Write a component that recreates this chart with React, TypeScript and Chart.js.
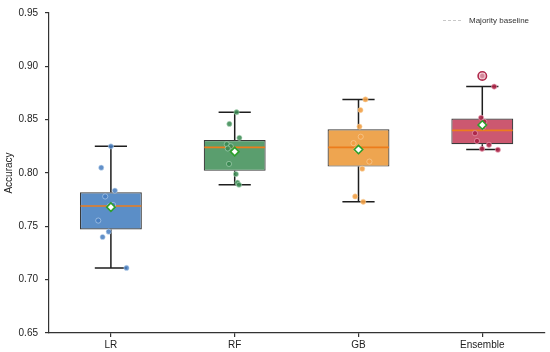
import React, { useEffect, useRef } from "react";
import { Chart, registerables } from "chart.js";

Chart.register(...registerables);

// ---- data ----
const categories = ["LR", "RF", "GB", "Ensemble"];
const q1 = [0.747, 0.802, 0.806, 0.827];
const q3 = [0.782, 0.831, 0.841, 0.851];
const medians = [0.769, 0.824, 0.824, 0.840];
const whiskerLow = [0.711, 0.789, 0.773, 0.822];
const whiskerHigh = [0.825, 0.857, 0.869, 0.881];
const means = [0.768, 0.820, 0.822, 0.845];
const outlierCats = [3];
const outlierValues = [0.891];

const lrScores = [0.825, 0.805, 0.7835, 0.778, 0.770, 0.769, 0.7554, 0.745, 0.740, 0.711];
const rfScores = [0.857, 0.846, 0.833, 0.827, 0.825, 0.823, 0.8085, 0.799, 0.791, 0.789];
const gbScores = [0.869, 0.859, 0.8435, 0.834, 0.828, 0.822, 0.8107, 0.804, 0.778, 0.773];
const ensScores = [0.891, 0.881, 0.8518, 0.848, 0.843, 0.8373, 0.830, 0.8264, 0.8227, 0.8218];
const scoreSets = [lrScores, rfScores, gbScores, ensScores];

// horizontal jitter (category units)
const lrJitter = [0, -0.078, 0.032, -0.046, 0.018, -0.01, -0.102, -0.018, -0.067, 0.126];
const rfJitter = [0.015, -0.043, 0.038, -0.064, -0.032, -0.056, -0.046, 0.01, 0.022, 0.035];
const gbJitter = [0.056, 0.016, 0.008, 0.018, -0.04, -0.016, 0.088, 0.03, -0.027, 0.038];
const ensJitter = [0, 0.096, -0.01, 0.016, 0.006, -0.059, -0.043, 0.054, -0.002, 0.126];
const jitterSets = [lrJitter, rfJitter, gbJitter, ensJitter];

const legendLabel = "Majority baseline";

// ---- styles ----
const boxFills = ["#5b8ec7", "#5a9e6e", "#eea550", "#cc5870"];
const pointFills = [
  "rgba(70,125,192,0.85)",
  "rgba(55,135,80,0.85)",
  "rgba(242,160,70,0.9)",
  "rgba(170,35,70,0.9)",
];
const pointEdges = [
  "rgba(200,220,240,0.8)",
  "rgba(190,225,200,0.8)",
  "rgba(250,215,170,0.8)",
  "rgba(240,170,190,0.9)",
];
const FONT = "'Liberation Sans', Arial, Helvetica, sans-serif";
const CAP_HALF = 0.13;

const boxExtras = {
  id: "boxExtras",
  beforeDatasetsDraw(chart: any) {
    const { ctx } = chart;
    const xs = chart.scales.x;
    const ys = chart.scales.y;
    ctx.save();
    ctx.strokeStyle = "#1e1e1e";
    ctx.lineWidth = 1.5;
    categories.forEach((_, i) => {
      const x = xs.getPixelForValue(i);
      const xl = xs.getPixelForValue(i - CAP_HALF);
      const xr = xs.getPixelForValue(i + CAP_HALF);
      const yLo = ys.getPixelForValue(whiskerLow[i]);
      const yHi = ys.getPixelForValue(whiskerHigh[i]);
      ctx.beginPath();
      ctx.moveTo(x, ys.getPixelForValue(q1[i]));
      ctx.lineTo(x, yLo);
      ctx.moveTo(x, ys.getPixelForValue(q3[i]));
      ctx.lineTo(x, yHi);
      ctx.moveTo(xl, yLo);
      ctx.lineTo(xr, yLo);
      ctx.moveTo(xl, yHi);
      ctx.lineTo(xr, yHi);
      ctx.stroke();
    });
    ctx.restore();
  },
  afterDatasetDraw(chart: any, args: any) {
    if (args.index !== 0) return;
    const { ctx } = chart;
    const xs = chart.scales.x;
    const ys = chart.scales.y;
    ctx.save();
    ctx.strokeStyle = "#ec7d1c";
    ctx.lineWidth = 1.6;
    categories.forEach((_, i) => {
      const y = ys.getPixelForValue(medians[i]);
      ctx.beginPath();
      ctx.moveTo(xs.getPixelForValue(i - 0.25) + 0.6, y);
      ctx.lineTo(xs.getPixelForValue(i + 0.25) - 0.6, y);
      ctx.stroke();
    });
    ctx.restore();
  },
  afterDraw(chart: any) {
    const { ctx } = chart;
    ctx.save();
    ctx.strokeStyle = "#c8c8c8";
    ctx.lineWidth = 1;
    ctx.setLineDash([3, 2]);
    ctx.beginPath();
    ctx.moveTo(443, 20.5);
    ctx.lineTo(463, 20.5);
    ctx.stroke();
    ctx.setLineDash([]);
    ctx.fillStyle = "#333";
    ctx.font = `8px ${FONT}`;
    ctx.textBaseline = "middle";
    ctx.textAlign = "left";
    ctx.fillText(legendLabel, 469, 20.5);
    ctx.restore();
  },
};

export default function App() {
  const ref = useRef<HTMLCanvasElement | null>(null);

  useEffect(() => {
    if (!ref.current) return;
    Chart.defaults.font.family = FONT;

    const pointDatasets = scoreSets.map((scores, k) => ({
      type: "scatter" as const,
      label: categories[k] + " folds",
      data: scores.map((v, j) => ({ x: k + jitterSets[k][j], y: v })),
      backgroundColor: pointFills[k],
      borderColor: pointEdges[k],
      borderWidth: 0.7,
      pointRadius: 2.6,
      order: 5,
    }));

    const chart = new Chart(ref.current, {
      type: "bar",
      data: {
        datasets: [
          {
            type: "bar" as const,
            label: "box",
            data: categories.map((_, i) => ({ x: i, y: [q1[i], q3[i]] })) as any,
            backgroundColor: boxFills,
            borderColor: "#3a3a3a",
            borderWidth: 1.2,
            borderSkipped: false,
            barPercentage: 0.5,
            categoryPercentage: 1,
            grouped: false,
            order: 10,
          },
          ...pointDatasets,
          {
            type: "scatter" as const,
            label: "outliers",
            data: outlierCats.map((c, j) => ({ x: c, y: outlierValues[j] })),
            backgroundColor: "rgba(245,215,222,0.5)",
            borderColor: "#b02a4c",
            borderWidth: 1.6,
            pointRadius: 4.2,
            order: 2,
          },
          {
            type: "scatter" as const,
            label: "mean",
            data: means.map((m, i) => ({ x: i, y: m })),
            pointStyle: "rectRot",
            backgroundColor: "#ffffff",
            borderColor: "#2ca02c",
            borderWidth: 1.6,
            pointRadius: 4.2,
            order: 1,
          },
        ] as any,
      },
      options: {
        responsive: false,
        animation: false,
        devicePixelRatio: 1,
        layout: { padding: { top: 10, right: 5, left: 0, bottom: 0 } },
        plugins: {
          legend: { display: false },
          tooltip: { enabled: false },
        },
        scales: {
          x: {
            type: "linear",
            min: -0.5,
            max: 3.5,
            offset: false,
            grid: {
              display: true,
              offset: false,
              drawOnChartArea: false,
              drawTicks: true,
              tickLength: 4,
              color: "#333",
              lineWidth: 1.2,
            },
            border: { display: true, color: "#333", width: 1.2 },
            ticks: {
              color: "#222",
              font: { size: 10 },
              padding: 2,
              autoSkip: false,
              maxRotation: 0,
              callback: (v: any) => categories[Math.round(Number(v))] ?? "",
            },
            afterBuildTicks: (s: any) => {
              s.ticks = categories.map((_, i) => ({ value: i }));
            },
            afterFit: (s: any) => {
              s.height = 19;
              s.paddingLeft = 0;
              s.paddingRight = 0;
            },
          },
          y: {
            type: "linear",
            min: 0.65,
            max: 0.95,
            grid: {
              display: true,
              offset: false,
              drawOnChartArea: false,
              drawTicks: true,
              tickLength: 4,
              color: "#333",
              lineWidth: 1.2,
            },
            border: { display: true, color: "#333", width: 1.2 },
            ticks: {
              stepSize: 0.05,
              color: "#222",
              font: { size: 10 },
              padding: 7,
              callback: (v: any) => Number(v).toFixed(2),
            },
            title: {
              display: true,
              text: "Accuracy",
              color: "#222",
              font: { size: 10 },
              padding: { top: 3, bottom: 0 },
            },
            afterFit: (s: any) => {
              s.width = 49;
            },
          },
        } as any,
      },
      plugins: [boxExtras],
    });

    return () => chart.destroy();
  }, []);

  return (
    <div style={{ position: "fixed", left: 0, top: 0, width: 550, height: 352, background: "#fff" }}>
      <canvas ref={ref} width={550} height={352} style={{ display: "block" }} />
    </div>
  );
}
